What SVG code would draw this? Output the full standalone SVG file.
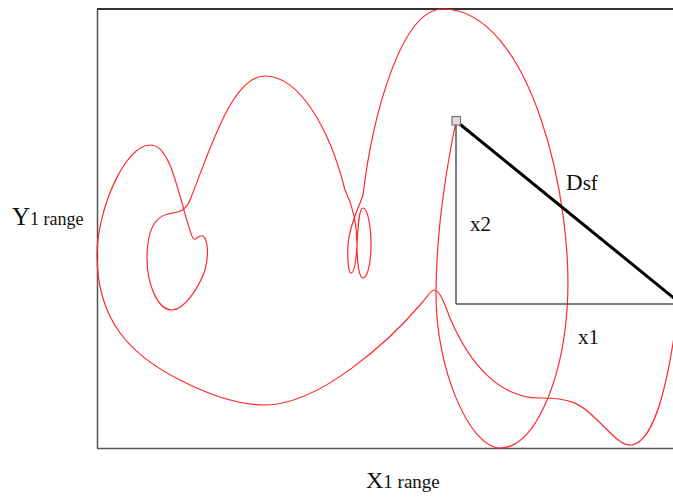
<svg xmlns="http://www.w3.org/2000/svg" width="673" height="497" viewBox="0 0 673 497">
<style>
.frame{fill:none;stroke:#555;stroke-width:1.5}
.tri{fill:none;stroke:#555;stroke-width:1.5}
.curve{fill:none;stroke:#ff2a2a;stroke-width:1.2}
.lbl{font-family:"Liberation Serif","Times New Roman",serif;fill:#111}
</style>
<rect width="673" height="497" fill="#fff"/>
<g id="frame">
<line class="frame" x1="97.5" y1="9" x2="97.5" y2="448.5"/>
<line x1="97" y1="9" x2="673" y2="9" stroke="#333" stroke-width="2"/>
<line class="frame" x1="97" y1="448.5" x2="673" y2="448.5"/>
</g>
<g id="trajectory">
<path class="curve" d="M456,121 C446,170 436,230 436,295 C436,370 470,448 500,448 C535,448 562,380 567,310 C575,200 530,9 443,9 C400,9 372,120 363,195 C360,205 349,225 348,245 C347,262 349,273 351,273 C354,273 356,262 357,245 C358,225 359,208 363,208 C368,208 371,228 371,245 C371,265 367,278 363,278 C359,278 357,262 357,245 C357,228 355,210 345,190 C330,130 300,76 265,76 C232,76 210,150 190,200 C185,212 178,212 168,214 C150,218 147,240 147,258 C147,285 158,310 172,310 C185,310 200,285 205,270 C209,255 208,240 203,236 C198,234 196,242 193,238 C188,230 180,190 170,165 C163,150 158,145 150,145 C125,145 97,210 97,255 C97,320 130,355 180,380 C215,398 245,405 265,405 C320,405 390,340 420,305 C428,296 431,290 434,290 C440,290 445,305 450,318 C470,365 500,398 540,398 C570,398 580,403 595,418 C610,432 620,445 630,445 C650,445 665,400 675,330"/>
</g>
<g id="triangle">
<line class="tri" x1="456" y1="121" x2="456" y2="304"/>
<line class="tri" x1="456" y1="304" x2="673" y2="304"/>
<line x1="456" y1="121" x2="675" y2="299" stroke="#000" stroke-width="3"/>
<rect x="452" y="116.5" width="8.5" height="8.5" fill="#ddd" stroke="#777" stroke-width="1.2"/>
</g>
<g id="labels">
<text class="lbl" x="12" y="225"><tspan font-size="25">Y</tspan><tspan font-size="18">1 range</tspan></text>
<text class="lbl" x="366" y="488"><tspan font-size="24">X</tspan><tspan font-size="19">1 range</tspan></text>
<text class="lbl" x="566" y="190"><tspan font-size="23">D</tspan><tspan font-size="21">sf</tspan></text>
<text class="lbl" x="470" y="231" font-size="21">x2</text>
<text class="lbl" x="578" y="344" font-size="21">x1</text>
</g>
</svg>
